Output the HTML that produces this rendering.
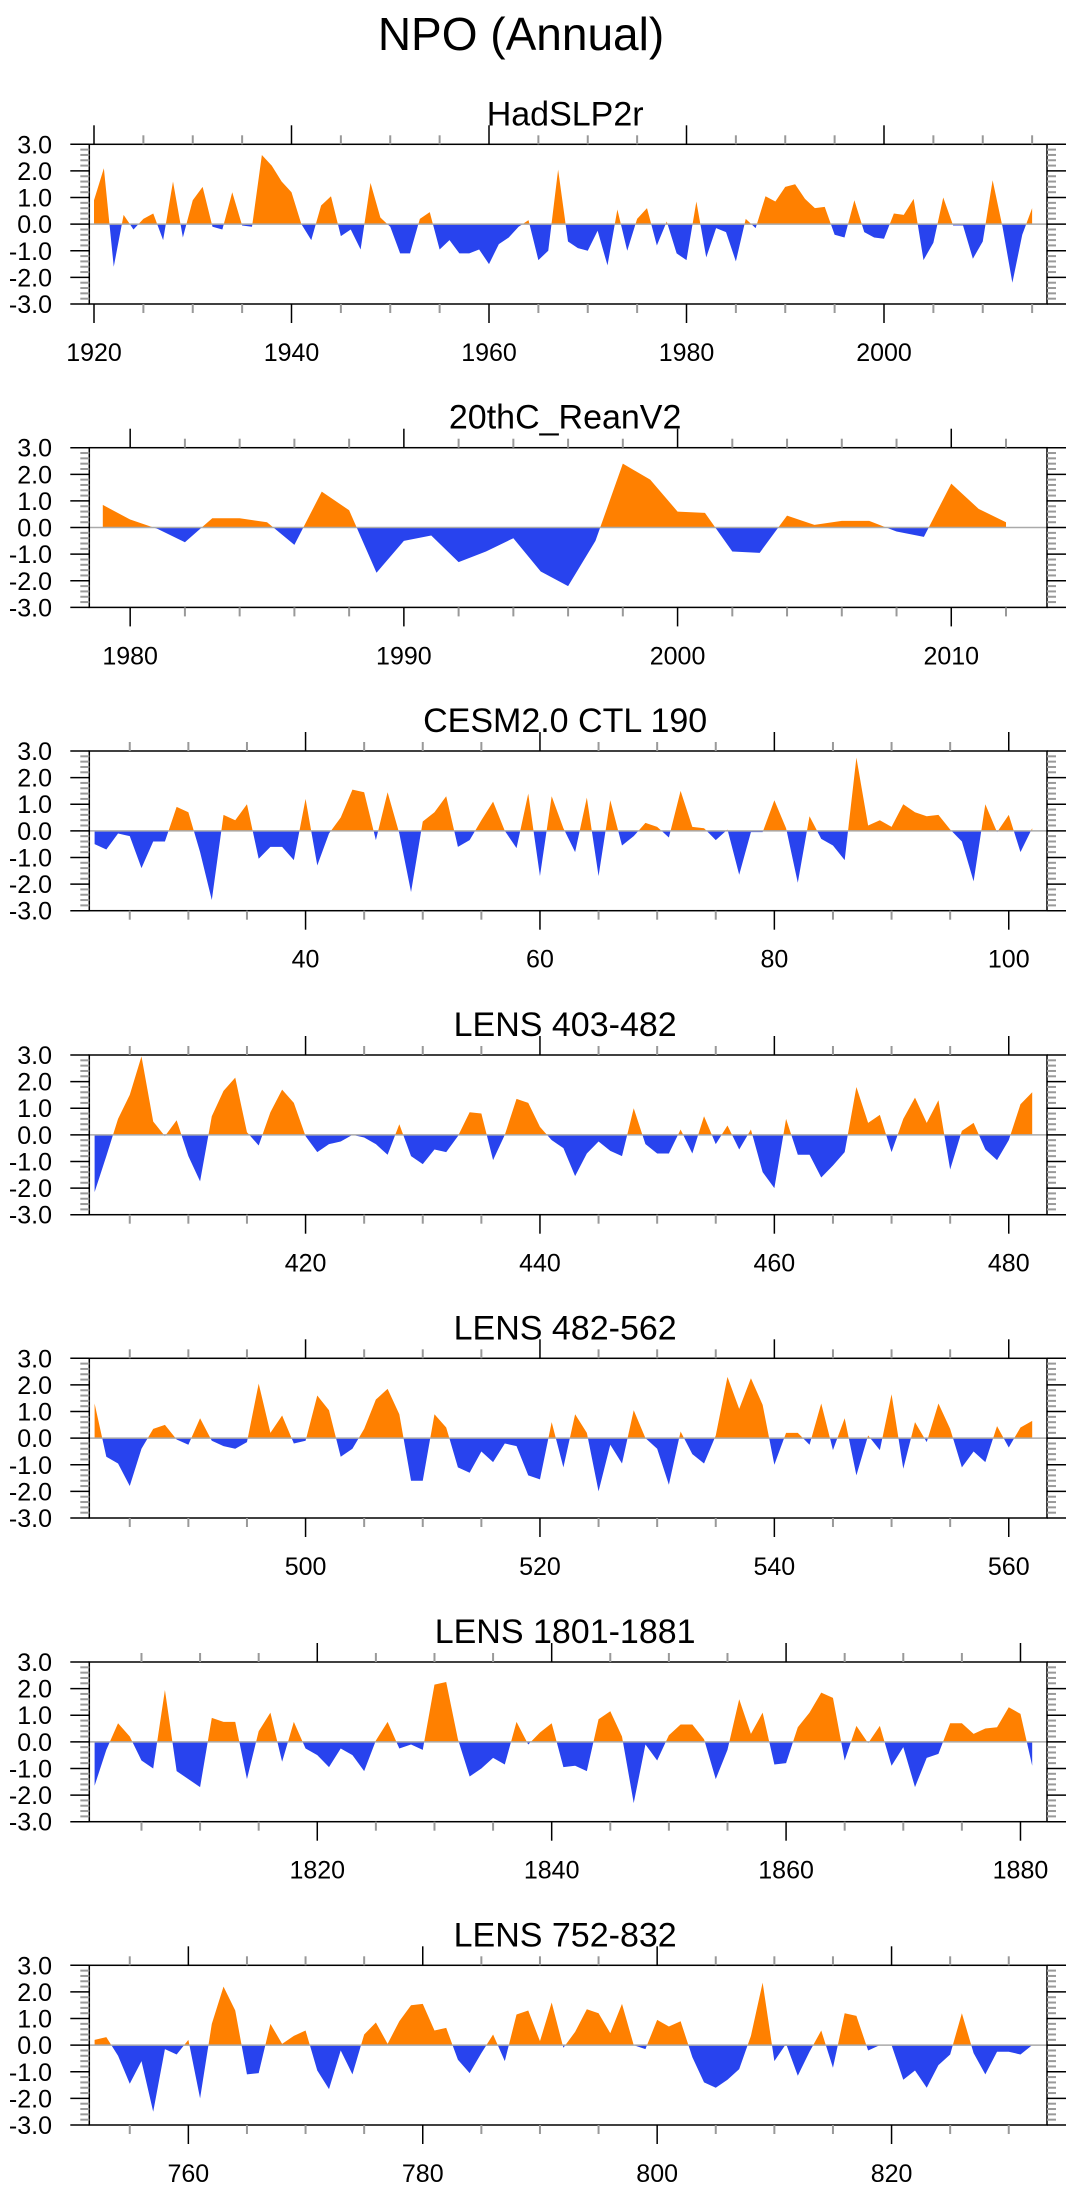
<!DOCTYPE html>
<html><head><meta charset="utf-8"><style>
body{margin:0;background:#fff;}
svg{display:block;font-family:"Liberation Sans",sans-serif;}
</style></head><body>
<svg id="chart" width="1075" height="2190" viewBox="0 0 1075 2190" xmlns="http://www.w3.org/2000/svg">
<text x="521" y="50" font-size="46" text-anchor="middle">NPO (Annual)</text>
</svg>
<script>
const titles=["HadSLP2r","20thC_ReanV2","CESM2.0 CTL 190","LENS 403-482","LENS 482-562","LENS 1801-1881","LENS 752-832"];
const startYears=[1920,1979,22,402,482,1801,752];
const seriesHad=[0.9,2.1,-1.6,0.35,-0.2,0.2,0.4,-0.6,1.6,-0.5,0.9,1.4,-0.1,-0.2,1.2,-0.05,-0.1,2.6,2.2,1.6,1.2,0.0,-0.6,0.7,1.05,-0.45,-0.2,-0.95,1.55,0.25,-0.1,-1.1,-1.1,0.2,0.45,-0.95,-0.6,-1.1,-1.1,-0.95,-1.5,-0.75,-0.5,-0.1,0.15,-1.35,-1.0,2.05,-0.65,-0.9,-1.0,-0.25,-1.55,0.55,-1.0,0.2,0.6,-0.8,0.1,-1.1,-1.35,0.85,-1.25,-0.15,-0.3,-1.4,0.2,-0.15,1.05,0.85,1.4,1.5,0.95,0.6,0.65,-0.4,-0.5,0.9,-0.3,-0.5,-0.55,0.4,0.35,0.95,-1.35,-0.7,1.0,-0.05,-0.05,-1.3,-0.65,1.65,-0.1,-2.2,-0.4,0.6];
const seriesRean=[0.85,0.3,-0.05,-0.55,0.35,0.35,0.2,-0.65,1.35,0.65,-1.7,-0.5,-0.3,-1.3,-0.9,-0.4,-1.65,-2.2,-0.5,2.4,1.8,0.6,0.55,-0.9,-0.95,0.45,0.1,0.25,0.25,-0.15,-0.35,1.65,0.7,0.2];
const seriesCesm=[-0.5,-0.7,-0.1,-0.2,-1.4,-0.4,-0.4,0.9,0.7,-0.8,-2.6,0.6,0.4,1.0,-1.05,-0.6,-0.6,-1.1,1.2,-1.3,-0.1,0.5,1.55,1.45,-0.35,1.45,-0.1,-2.3,0.35,0.7,1.3,-0.6,-0.35,0.4,1.1,0.0,-0.65,1.4,-1.7,1.3,0.1,-0.8,1.25,-1.7,1.15,-0.55,-0.2,0.3,0.15,-0.25,1.5,0.15,0.1,-0.35,0.05,-1.65,-0.05,-0.05,1.15,0.1,-1.95,0.55,-0.3,-0.55,-1.1,2.75,0.2,0.4,0.15,1.0,0.7,0.55,0.6,0.05,-0.4,-1.9,1.0,-0.05,0.6,-0.8,0.1];
const seriesL403=[-2.15,-0.8,0.6,1.5,2.95,0.5,-0.05,0.55,-0.8,-1.75,0.7,1.65,2.15,0.1,-0.4,0.85,1.7,1.2,-0.05,-0.65,-0.35,-0.25,0.0,-0.1,-0.35,-0.75,0.4,-0.8,-1.1,-0.55,-0.65,-0.05,0.85,0.8,-0.95,0.0,1.35,1.2,0.3,-0.2,-0.5,-1.55,-0.7,-0.25,-0.6,-0.8,1.0,-0.35,-0.7,-0.7,0.2,-0.7,0.7,-0.35,0.35,-0.55,0.2,-1.4,-2.0,0.6,-0.75,-0.75,-1.6,-1.15,-0.65,1.8,0.45,0.75,-0.65,0.6,1.4,0.45,1.3,-1.3,0.15,0.45,-0.55,-0.95,-0.2,1.15,1.6];
const seriesL482=[1.3,-0.7,-0.95,-1.8,-0.4,0.35,0.5,-0.05,-0.25,0.75,-0.1,-0.3,-0.4,-0.15,2.05,0.2,0.85,-0.2,-0.1,1.6,1.05,-0.7,-0.4,0.35,1.45,1.85,0.9,-1.6,-1.6,0.9,0.4,-1.1,-1.3,-0.5,-0.9,-0.2,-0.3,-1.4,-1.55,0.6,-1.1,0.9,0.2,-2.0,-0.25,-0.95,1.05,0.0,-0.4,-1.75,0.25,-0.6,-0.95,0.1,2.3,1.1,2.25,1.25,-1.0,0.2,0.2,-0.25,1.3,-0.45,0.75,-1.4,0.1,-0.45,1.65,-1.15,0.6,-0.15,1.3,0.35,-1.1,-0.5,-0.9,0.45,-0.35,0.4,0.65];
const seriesL1801=[-1.65,-0.3,0.7,0.2,-0.7,-1.0,1.95,-1.1,-1.4,-1.7,0.9,0.75,0.75,-1.4,0.4,1.1,-0.75,0.75,-0.25,-0.5,-0.95,-0.25,-0.5,-1.1,0.05,0.75,-0.25,-0.1,-0.3,2.15,2.25,0.1,-1.3,-1.0,-0.6,-0.85,0.75,-0.1,0.35,0.7,-0.95,-0.9,-1.1,0.85,1.15,0.2,-2.3,-0.1,-0.7,0.25,0.65,0.65,0.1,-1.4,-0.3,1.6,0.3,1.1,-0.85,-0.8,0.55,1.1,1.85,1.65,-0.7,0.6,-0.05,0.6,-0.9,-0.2,-1.7,-0.6,-0.45,0.7,0.7,0.3,0.5,0.55,1.3,1.05,-0.9];
const seriesL752=[0.2,0.3,-0.4,-1.45,-0.6,-2.5,-0.15,-0.35,0.2,-2.0,0.8,2.2,1.3,-1.1,-1.05,0.8,0.05,0.35,0.55,-0.95,-1.65,-0.2,-1.1,0.4,0.85,0.05,0.9,1.5,1.55,0.55,0.65,-0.55,-1.05,-0.3,0.4,-0.6,1.15,1.3,0.15,1.6,-0.1,0.5,1.35,1.2,0.45,1.55,0.0,-0.15,0.95,0.7,0.9,-0.45,-1.4,-1.6,-1.3,-0.9,0.35,2.35,-0.6,0.05,-1.15,-0.25,0.55,-0.85,1.2,1.1,-0.2,0.0,0.0,-1.3,-0.95,-1.6,-0.75,-0.35,1.2,-0.3,-1.1,-0.25,-0.25,-0.35,0.0];
const yTickLabels=["3.0","2.0","1.0","0.0","-1.0","-2.0","-3.0"];
const yTickValues=[3,2,1,0,-1,-2,-3];
const allSeries=[seriesHad,seriesRean,seriesCesm,seriesL403,seriesL482,seriesL1801,seriesL752];
const xMajor=[20,10,20,20,20,20,20];
const xMinor=[5,2,5,5,5,5,5];

const NS="http://www.w3.org/2000/svg";
const svg=document.getElementById("chart");
const BL=89.3,BR=1047,BH=159.7;
const tops=[144.3,447.7,751,1055,1358.3,1662,1965.3];
const pxPerYr=[9.875,27.37,11.72,11.72,11.72,11.72,11.72];
const firstPx=[94,102.8,94.6,94.6,94.6,94.6,94.6];
function mk(tag,attrs,parent){const e=document.createElementNS(NS,tag);for(const k in attrs)e.setAttribute(k,attrs[k]);(parent||svg).appendChild(e);return e;}

allSeries.forEach((vals,p)=>{
  const top=tops[p],bot=top+BH;
  const x0=startYears[p]-(firstPx[p]-BL)/pxPerYr[p];
  const x1=x0+(BR-BL)/pxPerYr[p];
  const X=v=>BL+(v-x0)/(x1-x0)*(BR-BL);
  const Y=v=>top+(3-v)/6*BH;
  const g=mk("g",{});
  
  
  const t=mk("text",{x:(BL+BR)/2-3,y:top-19,"font-size":34,"text-anchor":"middle"},g);
  t.textContent=titles[p];
  
  
  // clip paths
  const cpU=mk("clipPath",{id:"cu"+p},g);mk("rect",{x:BL,y:top,width:BR-BL,height:Y(0)-top},cpU);
  const cpD=mk("clipPath",{id:"cd"+p},g);mk("rect",{x:BL,y:Y(0),width:BR-BL,height:bot-Y(0)},cpD);
  let d="M"+X(startYears[p])+","+Y(0);
  vals.forEach((v,i)=>{d+=" L"+X(startYears[p]+i).toFixed(2)+","+Y(v).toFixed(2);});
  d+=" L"+X(startYears[p]+vals.length-1)+","+Y(0)+" Z";
  const pu=mk("path",{d:d,fill:"#ff8000","clip-path":"url(#cu"+p+")"},g);
  
  
  const pd=mk("path",{d:d,fill:"#2843ee","clip-path":"url(#cd"+p+")"},g);
  
  
  const zl=mk("line",{x1:BL,x2:BR,y1:Y(0),y2:Y(0),stroke:"#aaa","stroke-width":1.5},g);
  
  
  const box=mk("rect",{x:BL,y:top,width:BR-BL,height:BH,fill:"none",stroke:"#000","stroke-width":1.5},g);
  
  
  // y ticks
  for(let k=-15;k<=15;k++){const v=k*0.2,y=Y(v);const major=k%5===0;
    const len=major?19:9,col=major?"#000":"#999";
    mk("line",{x1:BL-len,x2:BL,y1:y,y2:y,stroke:col,"stroke-width":major?1.5:2},g);
    mk("line",{x1:BR,x2:BR+len,y1:y,y2:y,stroke:col,"stroke-width":major?1.5:2},g);}
  yTickValues.forEach((v,i)=>{const tl=mk("text",{x:52,y:Y(v)+9,"font-size":25,"text-anchor":"end"},g);tl.textContent=yTickLabels[i];
    
    });
  // x ticks
  const mi=xMinor[p],ma=xMajor[p];
  for(let v=Math.ceil(x0/mi)*mi;v<=x1;v+=mi){const x=X(v);const major=v%ma===0;const len=major?19:9,col=major?"#000":"#999";
    mk("line",{x1:x,x2:x,y1:top-len,y2:top,stroke:col,"stroke-width":major?1.5:2},g);
    mk("line",{x1:x,x2:x,y1:bot,y2:bot+len,stroke:col,"stroke-width":major?1.5:2},g);
    if(major){const xl=mk("text",{x:x,y:bot+57,"font-size":25,"text-anchor":"middle"},g);xl.textContent=String(v);
      
      }}
});
</script>
</body></html>
